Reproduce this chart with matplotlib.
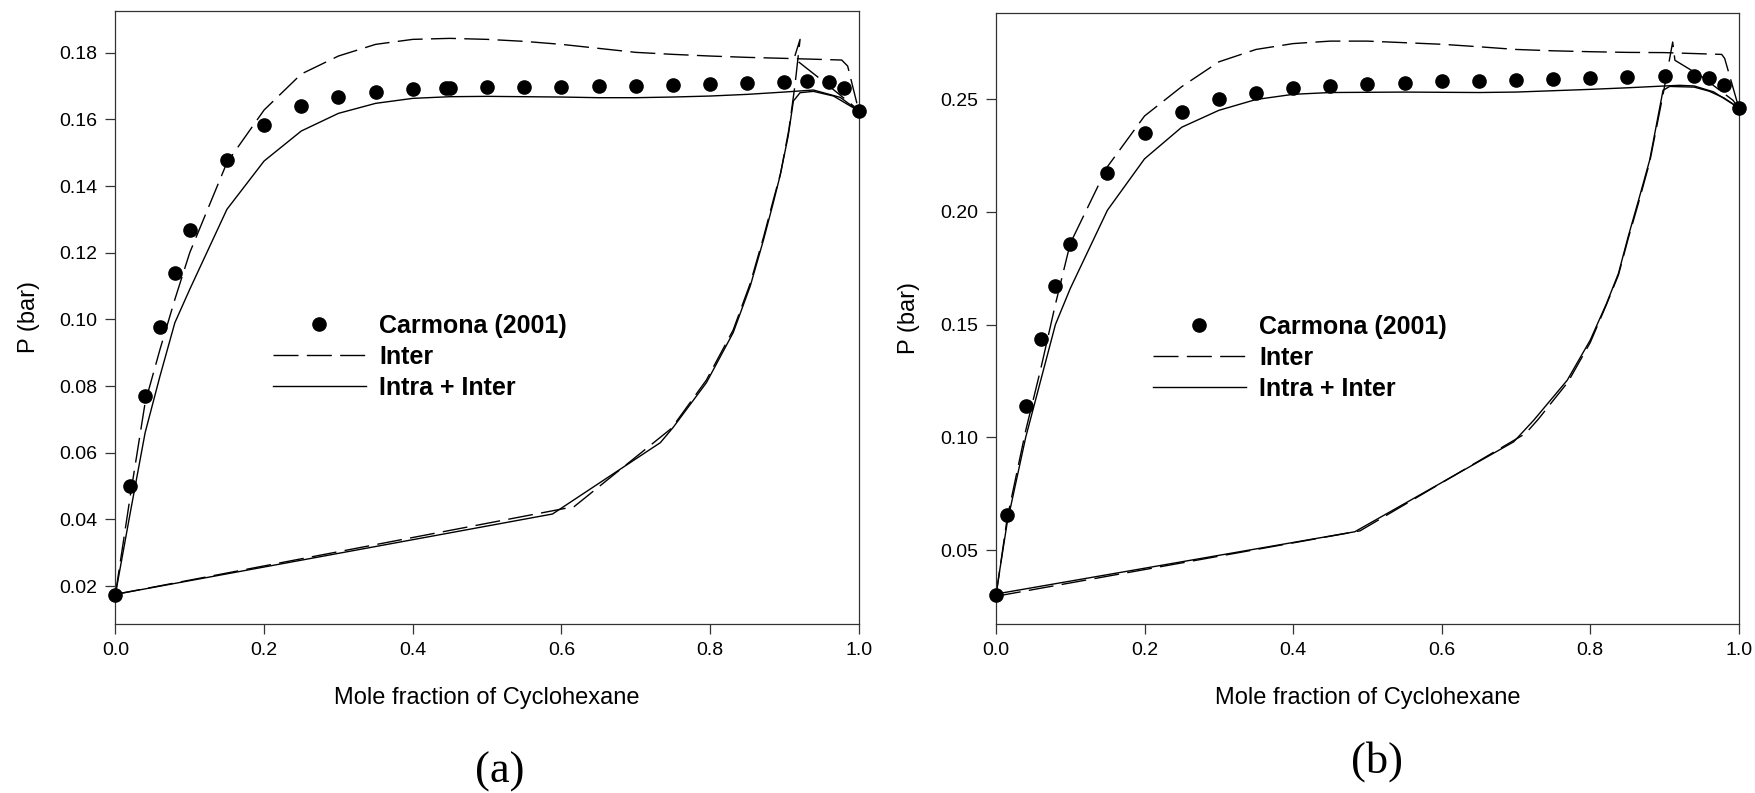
import matplotlib
matplotlib.use("Agg")
import matplotlib.pyplot as plt
import numpy as np

plt.rcParams['font.family'] = ['Liberation Sans', 'DejaVu Sans']

# ---------------- Panel (a) data ----------------
a_exp_x = [0.0, 0.02, 0.04, 0.06, 0.08, 0.10, 0.15, 0.20, 0.25, 0.30, 0.35, 0.40,
           0.445, 0.45, 0.50, 0.55, 0.60, 0.65, 0.70, 0.75, 0.80, 0.85, 0.90, 0.93,
           0.96, 0.98, 1.0]
a_exp_y = [0.0173, 0.0500, 0.0770, 0.0978, 0.1140, 0.1268, 0.1477, 0.1583, 0.1640,
           0.1668, 0.1683, 0.1690, 0.1694, 0.1694, 0.1696, 0.1697, 0.1697, 0.1700,
           0.1701, 0.1703, 0.1706, 0.1709, 0.1713, 0.1714, 0.1711, 0.1693, 0.1625]

a_inter_bub_x = [0.0, 0.02, 0.04, 0.06, 0.08, 0.10, 0.15, 0.20, 0.25, 0.30, 0.35, 0.40,
                 0.45, 0.50, 0.55, 0.60, 0.65, 0.70, 0.75, 0.80, 0.85, 0.90, 0.977, 0.985, 1.0]
a_inter_bub_y = [0.0175, 0.0470, 0.0750, 0.0910, 0.1060, 0.1200, 0.1470, 0.1628, 0.1736,
                 0.1790, 0.1825, 0.1840, 0.1843, 0.1840, 0.1834, 0.1825, 0.1813, 0.1801,
                 0.1795, 0.1790, 0.1786, 0.1783, 0.1778, 0.1760, 0.1625]
a_inter_dew_x = [0.0, 0.617, 0.748, 0.795, 0.831, 0.854, 0.872, 0.885, 0.895, 0.906,
                 0.914, 0.921, 0.913, 0.95, 0.993, 1.0]
a_inter_dew_y = [0.0175, 0.0438, 0.0673, 0.0818, 0.0968, 0.1108, 0.1248, 0.1358, 0.1440,
                 0.1570, 0.1700, 0.1840, 0.1783, 0.1718, 0.1640, 0.1625]

a_intra_bub_x = [0.0, 0.02, 0.04, 0.06, 0.08, 0.10, 0.15, 0.20, 0.25, 0.30, 0.35, 0.40,
                 0.45, 0.50, 0.55, 0.60, 0.65, 0.70, 0.75, 0.80, 0.85, 0.90, 0.939, 0.975, 1.0]
a_intra_bub_y = [0.0175, 0.0420, 0.0660, 0.0830, 0.0990, 0.1090, 0.1330, 0.1475, 0.1565,
                 0.1618, 0.1648, 0.1663, 0.1668, 0.1669, 0.1668, 0.1667, 0.1665, 0.1665,
                 0.1667, 0.1670, 0.1675, 0.1682, 0.1688, 0.1666, 0.1625]
a_intra_dew_x = [0.0, 0.588, 0.733, 0.75, 0.795, 0.831, 0.854, 0.872, 0.885, 0.894,
                 0.905, 0.912, 0.921, 0.939, 0.966, 1.0]
a_intra_dew_y = [0.0175, 0.0416, 0.0630, 0.0675, 0.0810, 0.0960, 0.1100, 0.1240, 0.1350,
                 0.1430, 0.1550, 0.1655, 0.1680, 0.1684, 0.1670, 0.1625]

# ---------------- Panel (b) data ----------------
b_exp_x = [0.0, 0.015, 0.04, 0.06, 0.08, 0.10, 0.15, 0.20, 0.25, 0.30, 0.35, 0.40, 0.45,
           0.50, 0.55, 0.60, 0.65, 0.70, 0.75, 0.80, 0.85, 0.90, 0.94, 0.96, 0.98, 1.0]
b_exp_y = [0.0300, 0.0656, 0.1137, 0.1438, 0.1672, 0.1856, 0.2172, 0.2350, 0.2443, 0.2499,
           0.2529, 0.2551, 0.2558, 0.2566, 0.2571, 0.2578, 0.2580, 0.2586, 0.2589, 0.2592,
           0.2597, 0.2601, 0.2602, 0.2592, 0.2561, 0.2461]

b_inter_bub_x = [0.0, 0.015, 0.04, 0.06, 0.08, 0.10, 0.15, 0.20, 0.25, 0.30, 0.35, 0.40,
                 0.45, 0.50, 0.55, 0.60, 0.65, 0.70, 0.75, 0.80, 0.85, 0.90, 0.977, 0.981, 1.0]
b_inter_bub_y = [0.0295, 0.0640, 0.1030, 0.1300, 0.1590, 0.1860, 0.2200, 0.2425, 0.2555,
                 0.2665, 0.2720, 0.2746, 0.2757, 0.2757, 0.2750, 0.2743, 0.2732, 0.2720,
                 0.2714, 0.2710, 0.2707, 0.2706, 0.2698, 0.2680, 0.2461]
b_inter_dew_x = [0.0, 0.49, 0.713, 0.73, 0.77, 0.80, 0.822, 0.838, 0.851, 0.865, 0.88,
                 0.898, 0.911, 0.914, 0.95, 0.992, 1.0]
b_inter_dew_y = [0.0295, 0.0585, 0.1017, 0.1080, 0.1245, 0.1420, 0.1590, 0.1720, 0.1880,
                 0.2040, 0.2220, 0.2520, 0.2753, 0.2672, 0.2600, 0.2495, 0.2461]

b_intra_bub_x = [0.0, 0.015, 0.04, 0.06, 0.08, 0.10, 0.15, 0.20, 0.25, 0.30, 0.35, 0.40,
                 0.45, 0.50, 0.55, 0.60, 0.65, 0.70, 0.75, 0.80, 0.85, 0.90, 0.92, 0.94,
                 0.966, 1.0]
b_intra_bub_y = [0.0305, 0.0620, 0.1000, 0.1250, 0.1500, 0.1660, 0.2007, 0.2235, 0.2375,
                 0.2450, 0.2498, 0.2521, 0.2529, 0.2530, 0.2531, 0.2530, 0.2529, 0.2531,
                 0.2537, 0.2543, 0.2550, 0.2558, 0.2561, 0.2558, 0.2532, 0.2461]
b_intra_dew_x = [0.0, 0.483, 0.697, 0.724, 0.769, 0.80, 0.822, 0.838, 0.851, 0.865, 0.88,
                 0.898, 0.907, 0.94, 0.96, 0.98, 1.0]
b_intra_dew_y = [0.0305, 0.0581, 0.0980, 0.1076, 0.1253, 0.1431, 0.1594, 0.1727, 0.1889,
                 0.2051, 0.2229, 0.2539, 0.2556, 0.2553, 0.2535, 0.2505, 0.2461]

x_ticks = [0.0, 0.2, 0.4, 0.6, 0.8, 1.0]
a_yticks = [0.02, 0.04, 0.06, 0.08, 0.10, 0.12, 0.14, 0.16, 0.18]
b_yticks = [0.05, 0.10, 0.15, 0.20, 0.25]

legend_labels = ["Carmona (2001)", "Inter", "Intra + Inter"]
xlabel = "Mole fraction of Cyclohexane"
ylabel = "P (bar)"

W, H = 1755, 793
fig = plt.figure(figsize=(W / 100, H / 100), dpi=100)

def make_panel(rect, ylim, yticks, yfmt, exp, inter_b, inter_d, intra_b, intra_d, leg_xy):
    ax = fig.add_axes(rect)
    dash = (0, (18, 6))
    lw = 1.0
    l_exp, = ax.plot(exp[0], exp[1], 'o', color='black', markersize=9.5,
                     linestyle='none', clip_on=False, zorder=5)
    l_inter, = ax.plot(inter_b[0], inter_b[1], color='black', lw=lw, linestyle=dash)
    ax.plot(inter_d[0], inter_d[1], color='black', lw=lw, linestyle=dash)
    l_intra, = ax.plot(intra_b[0], intra_b[1], color='black', lw=lw)
    ax.plot(intra_d[0], intra_d[1], color='black', lw=lw)
    ax.set_xlim(0, 1)
    ax.set_ylim(*ylim)
    ax.set_xticks(x_ticks)
    ax.set_xticklabels([f"{t:.1f}" for t in x_ticks])
    ax.set_yticks(yticks)
    ax.set_yticklabels([yfmt.format(t) for t in yticks])
    ax.tick_params(direction='out', length=7, width=0.9, labelsize=14, pad=6,
                   top=False, right=False, color='#333333')
    for s in ax.spines.values():
        s.set_linewidth(0.9)
        s.set_color('#333333')
    ax.set_xlabel(xlabel, fontsize=17, labelpad=20)
    ax.set_ylabel(ylabel, fontsize=17, labelpad=14)
    ax.legend([l_exp, l_inter, l_intra], legend_labels, loc='upper left',
              bbox_to_anchor=leg_xy, frameon=False, borderpad=0, borderaxespad=0,
              handlelength=3.7, handletextpad=0.55, labelspacing=0.29,
              prop={'weight': 'bold', 'size': 18})
    return ax

ax_a = make_panel([115.4 / W, 1 - 623.7 / H, 743.4 / W, 613.0 / H], (0.00869, 0.1926),
                  a_yticks, "{:.2f}", (a_exp_x, a_exp_y), (a_inter_bub_x, a_inter_bub_y),
                  (a_inter_dew_x, a_inter_dew_y), (a_intra_bub_x, a_intra_bub_y),
                  (a_intra_dew_x, a_intra_dew_y), (0.212, 0.506))
ax_b = make_panel([996.0 / W, 1 - 623.7 / H, 742.8 / W, 611.0 / H], (0.01733, 0.2883),
                  b_yticks, "{:.2f}", (b_exp_x, b_exp_y), (b_inter_bub_x, b_inter_bub_y),
                  (b_inter_dew_x, b_inter_dew_y), (b_intra_bub_x, b_intra_bub_y),
                  (b_intra_dew_x, b_intra_dew_y), (0.2114, 0.506))

fig.text(500 / W, 1 - 772 / H, "(a)", family=['Liberation Serif'], fontsize=32,
         ha='center', va='center')
fig.text(1377 / W, 1 - 762 / H, "(b)", family=['Liberation Serif'], fontsize=32,
         ha='center', va='center')

fig.savefig("out.png", dpi=100)
